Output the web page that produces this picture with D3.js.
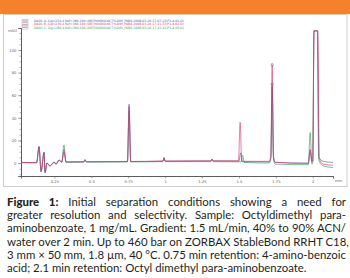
<!DOCTYPE html>
<html>
<head>
<meta charset="utf-8">
<script src="https://cdn.jsdelivr.net/npm/d3@7"></script>
<style>
  body { margin: 0; width: 350px; height: 278px; overflow: hidden; background: #fff; }
  #chart { position: absolute; left: 0; top: 0; }
  #caption { position: absolute; left: 7px; top: 195px; width: 339px;
    font-family: Lato, sans-serif; font-size: 11.4px; line-height: 13.2px; color: #231f20; }
  #caption div { text-align: justify; text-align-last: justify; white-space: nowrap; }
  #caption div.last { text-align-last: left; }
  #caption b { font-weight: 900; }
</style>
</head>
<body>
<svg id="chart" width="350" height="192"></svg>
<div id="caption"></div>
<script>
// tick values
const yTicks = [0, 20, 40, 60, 80, 100];
const xTicks = [0.25, 0.5, 0.75, 1, 1.25, 1.5, 1.75, 2];
const xTickLabels = ['0.25', '0.5', '0.75', '1', '1.25', '1.5', '1.75', '2'];

const legendLabels = [
  'DAD1 A, Sig=254,4 Ref=360,100 (ORTHOGRD\\OCTYLDIM_PABA 2008-03-20 17-07-22\\P1-A-01.D)',
  'DAD1 B, Sig=230,4 Ref=360,100 (ORTHOGRD\\OCTYLDIM_PABA 2008-03-20 17-11-33\\P1-A-02.D)',
  'DAD1 C, Sig=280,4 Ref=360,100 (ORTHOGRD\\OCTYLDIM_PABA 2008-03-20 17-15-41\\P1-A-03.D)'
];

// chromatograms: [time (min), absorbance (mAU)]
const blueTrace = [[0.024,0.5],[0.13,0.3],[0.146,15],[0.16,-8],[0.18,9.7],[0.187,-8.8],[0.2,0],[0.22,-2.7],
  [0.248,0.9],[0.261,-0.9],[0.282,2.7],[0.3,0.8],[0.315,10],[0.329,0.9],[0.45,1],[0.458,3],[0.466,1],
  [0.745,1.2],[0.756,52],[0.767,1.2],[0.985,1.6],[0.993,5],[1.001,1.6],[1.31,1.8],[1.318,3.5],[1.326,1.8],
  [1.50,1.6],[1.512,9],[1.524,1.2],[1.705,1],[1.716,5],[1.725,70],[1.734,5],[1.745,0.5],[1.97,0],
  [1.982,11],[1.994,1.5],[2.0,2],[2.008,117],[2.032,117],[2.042,5],[2.07,1.5],[2.137,0.5]];
const redTrace = [[0.024,0.5],[0.13,0.3],[0.146,14],[0.16,-7],[0.18,9],[0.187,-8],[0.2,0],[0.22,-2.5],
  [0.248,0.9],[0.261,-0.9],[0.282,2.5],[0.3,0.8],[0.315,12],[0.329,1],[0.45,1.2],[0.458,3],[0.466,1.2],
  [0.745,1.4],[0.756,50],[0.767,1.4],[0.985,1.8],[0.993,4.5],[1.001,1.8],[1.31,2],[1.318,3.5],[1.326,2],
  [1.497,2],[1.508,36],[1.519,1.5],[1.705,1.5],[1.716,6],[1.725,87],[1.734,6],[1.745,0.8],[1.97,-0.5],
  [1.982,12],[1.994,1],[2.0,1.5],[2.009,117],[2.034,117],[2.044,4],[2.07,-1],[2.137,-2]];
const greenTrace = [[0.024,0.3],[0.13,0.2],[0.146,14],[0.16,-7.5],[0.18,9.2],[0.187,-8.5],[0.2,0],[0.22,-2.7],
  [0.248,0.6],[0.261,-1.2],[0.282,2.5],[0.3,0.6],[0.315,16],[0.329,0.6],[0.45,0.8],[0.458,2.5],[0.466,0.8],
  [0.745,1],[0.756,46],[0.767,1],[0.985,1.2],[0.993,4],[1.001,1.2],[1.31,1.2],[1.318,3],[1.326,1.2],
  [1.514,1],[1.525,7],[1.536,0.5],[1.705,0],[1.716,4],[1.725,68],[1.734,4],[1.745,-1],[1.97,-1.5],
  [1.982,27],[1.994,-1],[2.0,0],[2.008,117],[2.030,117],[2.040,3],[2.07,-2.5],[2.137,-4]];

const traces = [
  { data: greenTrace, color: '#3d9e5c', opacity: 0.85 },
  { data: blueTrace, color: '#4b4f9e', opacity: 0.75 },
  { data: redTrace, color: '#d8356b', opacity: 0.8 }
];
const legendColors = ['#4a56a8', '#d8416e', '#3d9e5c'];

const captionLines = [
  '<b>Figure 1:</b> Initial separation conditions showing a need for',
  'greater resolution and selectivity. Sample: Octyldimethyl para-',
  'aminobenzoate, 1 mg/mL. Gradient: 1.5 mL/min, 40% to 90% ACN/',
  'water over 2 min. Up to 460 bar on ZORBAX StableBond RRHT C18,',
  '3 mm × 50 mm, 1.8 µm, 40 °C. 0.75 min retention: 4-amino-benzoic',
  'acid; 2.1 min retention: Octyl dimethyl para-aminobenzoate.'
];

const svg = d3.select('#chart');

// orange header band and panel frame
svg.append('rect').attr('x', 0).attr('y', 0).attr('width', 350).attr('height', 14).attr('fill', '#f5822a');
svg.append('rect').attr('x', 3.5).attr('y', 14.5).attr('width', 343.5).attr('height', 172)
  .attr('fill', '#fff').attr('stroke', '#cfcfcf').attr('stroke-width', 1);

const x = d3.scaleLinear().domain([0.024, 2.137]).range([21, 333]);
const y = d3.scaleLinear().domain([-11.5, 119.5]).range([176, 28]);

// axes
svg.append('g').attr('transform', 'translate(21,0)')
  .call(d3.axisLeft(y).tickValues(yTicks).tickSize(3).tickPadding(1.5).tickFormat(d3.format('d')));
svg.append('g').attr('transform', 'translate(21,0)')
  .call(d3.axisLeft(y).tickValues(d3.range(-10, 120, 5)).tickSize(1.5).tickFormat(''));
svg.append('g').attr('transform', 'translate(0,176)')
  .call(d3.axisBottom(x).tickValues(xTicks).tickSize(2.5).tickPadding(1.5).tickFormat((d, i) => xTickLabels[i]));
svg.append('g').attr('transform', 'translate(0,176)')
  .call(d3.axisBottom(x).tickValues(d3.range(0.05, 2.13, 0.05)).tickSize(1.3).tickFormat(''));

svg.selectAll('.domain').attr('stroke', '#555').attr('stroke-width', 0.8);
svg.selectAll('.tick line').attr('stroke', '#666').attr('stroke-width', 0.5);
svg.selectAll('.tick text').attr('fill', '#666').attr('font-size', 3.8).attr('font-family', 'DejaVu Sans');

svg.append('text').attr('x', 17).attr('y', 32).attr('text-anchor', 'end')
  .attr('font-size', 3.8).attr('fill', '#666').attr('font-family', 'DejaVu Sans').text('mAU');
svg.append('text').attr('x', 335).attr('y', 182).attr('text-anchor', 'start')
  .attr('font-size', 3.8).attr('fill', '#666').attr('font-family', 'DejaVu Sans').text('min');

// traces
const line = d3.line().x(d => x(d[0])).y(d => y(d[1])).curve(d3.curveMonotoneX);
traces.forEach(tr => {
  svg.append('path').attr('d', line(tr.data)).attr('fill', 'none')
    .attr('stroke', tr.color).attr('stroke-width', 0.8).attr('stroke-opacity', tr.opacity);
});

// peak markers on tall peak
[87, 70].forEach(v => {
  svg.append('circle').attr('cx', x(1.725)).attr('cy', y(v)).attr('r', 1.2)
    .attr('fill', 'none').attr('stroke', '#777').attr('stroke-width', 0.6);
});

// legend
const legend = svg.append('g');
legendLabels.forEach((lab, i) => {
  const ly = 19.5 + i * 3.3;
  legend.append('rect').attr('x', 22).attr('y', ly).attr('width', 6).attr('height', 3)
    .attr('fill', '#fff').attr('stroke', '#999').attr('stroke-width', 0.4);
  legend.append('line').attr('x1', 22.5).attr('x2', 27.5).attr('y1', ly + 1.5).attr('y2', ly + 1.5)
    .attr('stroke', legendColors[i]).attr('stroke-width', 0.6);
  legend.append('text').attr('x', 34).attr('y', ly + 2.6).attr('font-size', 3.1)
    .attr('font-family', 'DejaVu Sans').attr('fill', legendColors[i]).text(lab);
});

// caption
d3.select('#caption').selectAll('div').data(captionLines).join('div')
  .attr('class', (d, i) => i === captionLines.length - 1 ? 'last' : null)
  .html(d => d);
</script>
</body>
</html>
